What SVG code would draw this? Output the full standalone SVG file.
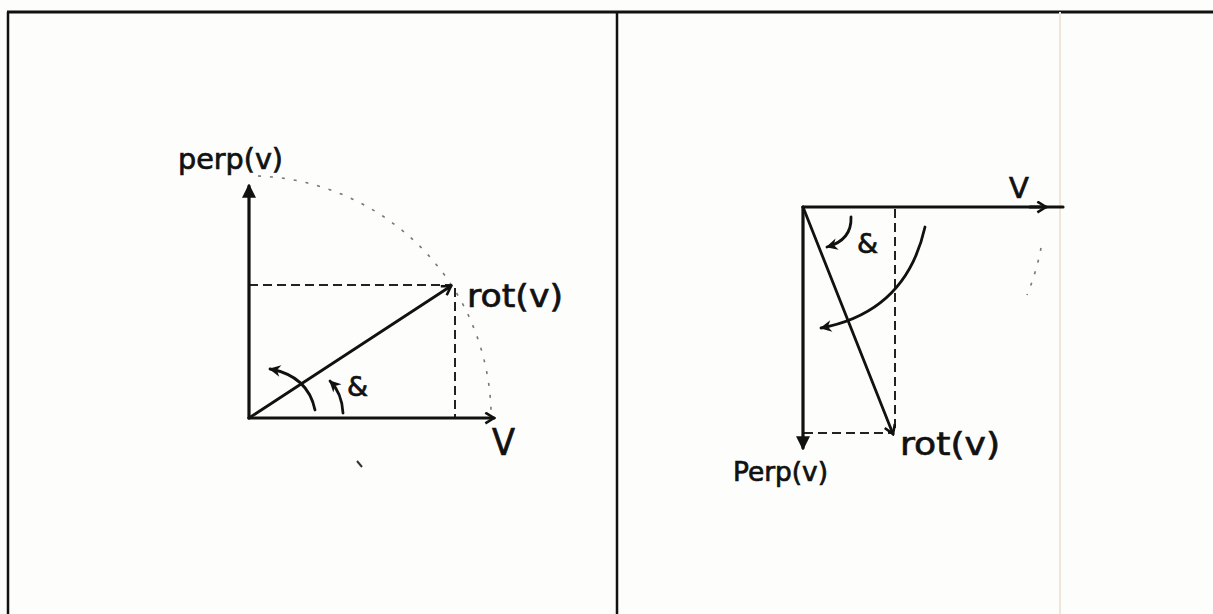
<svg xmlns="http://www.w3.org/2000/svg" width="1213" height="614" viewBox="0 0 1213 614">
<defs>
<style>
.frame{stroke:#111;fill:none}
.axis{stroke:#111;stroke-width:3.2;fill:none;stroke-linecap:round}
.vec{stroke:#111;stroke-width:2.8;fill:none;stroke-linecap:round}
.dash{stroke:#222;stroke-width:2;fill:none;stroke-dasharray:9 5}
.dot{stroke:#777;stroke-width:1.6;fill:none;stroke-dasharray:3 9}
.curve{stroke:#111;stroke-width:2.8;fill:none;stroke-linecap:round}
.lbl{font-family:"DejaVu Sans","Liberation Sans",sans-serif;fill:#111;stroke:#111;stroke-width:0.7}
</style>
<marker id="open" viewBox="0 0 12 12" refX="10" refY="6" markerWidth="13" markerHeight="13" markerUnits="userSpaceOnUse" orient="auto">
<path d="M2,1 L10,6 L2,11" fill="none" stroke="#111" stroke-width="2.4"/>
</marker>
<marker id="fill" viewBox="0 0 12 12" refX="10" refY="6" markerWidth="14" markerHeight="14" markerUnits="userSpaceOnUse" orient="auto">
<path d="M0,0 L12,6 L0,12 Z" fill="#111"/>
</marker>
<marker id="head" viewBox="0 0 12 12" refX="10" refY="6" markerWidth="14" markerHeight="14" markerUnits="userSpaceOnUse" orient="auto">
<path d="M1,1 L11,6 L1,11 L4,6 Z" fill="#111"/>
</marker>
</defs>
<rect width="1213" height="614" fill="#fdfdfb"/>
<g id="frame">
<line class="frame" x1="7" y1="12" x2="1213" y2="12" stroke-width="3"/>
<line class="frame" x1="8" y1="12" x2="8" y2="614" stroke-width="2.5"/>
<line class="frame" x1="617" y1="12" x2="617" y2="614" stroke-width="2.5"/>
<line x1="1060" y1="12" x2="1060" y2="614" stroke="#efe6d6" stroke-width="2"/>
</g>
<g id="connectors">
<path class="dot" d="M258,176 A242,242 0 0 1 491,410"/>
<line class="dash" x1="249" y1="285" x2="452" y2="285"/>
<line class="dash" x1="455" y1="288" x2="455" y2="417"/>
<line class="axis" x1="249" y1="418" x2="249" y2="186" marker-end="url(#fill)"/>
<line class="axis" x1="249" y1="418" x2="494" y2="418" marker-end="url(#open)"/>
<line class="vec" x1="249" y1="418" x2="451" y2="286" marker-end="url(#open)"/>
<path class="curve" d="M315,410 Q308,376 270,369" marker-end="url(#head)"/>
<path class="curve" d="M343,413 Q342,393 330,381" marker-end="url(#head)"/>
<line x1="357" y1="461" x2="362" y2="467" stroke="#333" stroke-width="2"/>
<path class="dot" d="M1041,248 A242,242 0 0 1 1027,295"/>
<line class="dash" x1="895" y1="209" x2="895" y2="432"/>
<line class="dash" x1="804" y1="433" x2="893" y2="433"/>
<line class="axis" x1="803" y1="207" x2="1063" y2="207"/>
<line class="axis" x1="1030" y1="207" x2="1046" y2="207" marker-end="url(#open)"/>
<line class="axis" x1="803" y1="207" x2="803" y2="448" marker-end="url(#fill)"/>
<line class="vec" x1="803" y1="207" x2="893" y2="434" marker-end="url(#open)"/>
<path class="curve" d="M851,217 Q852,240 827,247" marker-end="url(#head)"/>
<path class="curve" d="M925,227 Q906,312 821,328" marker-end="url(#head)"/>
</g>
<g id="labels">
<text class="lbl" x="178" y="169" font-size="28" textLength="105" lengthAdjust="spacingAndGlyphs">perp(v)</text>
<text class="lbl" x="467" y="307" font-size="32" textLength="96" lengthAdjust="spacingAndGlyphs">rot(v)</text>
<text class="lbl" x="492" y="455" font-size="38" textLength="23" lengthAdjust="spacingAndGlyphs">V</text>
<text class="lbl" x="347" y="396" font-size="27">&amp;</text>
<text class="lbl" x="1009" y="198" font-size="29">V</text>
<text class="lbl" x="857" y="253" font-size="27">&amp;</text>
<text class="lbl" x="900" y="455" font-size="32" textLength="100" lengthAdjust="spacingAndGlyphs">rot(v)</text>
<text class="lbl" x="733" y="481" font-size="26" textLength="95" lengthAdjust="spacingAndGlyphs">Perp(v)</text>
</g>
</svg>
